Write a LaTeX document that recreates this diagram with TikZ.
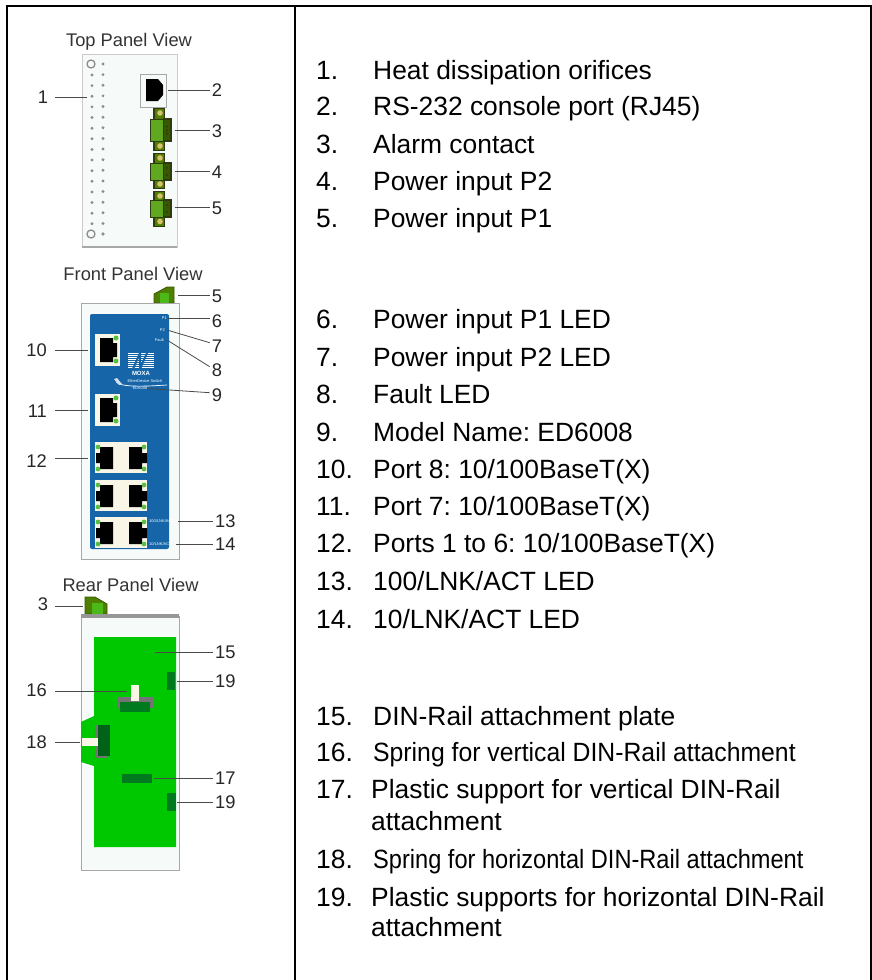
\documentclass[tikz,border=0pt]{standalone}
\usepackage{fontspec}
\setmainfont{Liberation Sans}
\definecolor{panelfill}{HTML}{F6FBFA}
\definecolor{panelgray}{HTML}{A8A8A8}
\definecolor{holegray}{HTML}{8C8C8C}
\definecolor{leadgray}{HTML}{4A4A4A}
\definecolor{moxablue}{HTML}{1565A8}
\definecolor{ledgreen}{HTML}{58C040}
\definecolor{plategreen}{HTML}{00C800}
\definecolor{clipgreen}{HTML}{007A1E}
\definecolor{plugdark}{HTML}{2F3A10}
\definecolor{plugbody}{HTML}{5FA820}
\definecolor{plugtan}{HTML}{D8C070}
\definecolor{plugolive}{HTML}{4F7F00}
\definecolor{portcream}{HTML}{F9F6E8}
\tikzset{
  frameline/.style={line width=2pt, black},
  panelbox/.style={draw=panelgray, line width=1pt, fill=panelfill},
  leadline/.style={line width=0.8pt, leadgray},
  viewtitle/.style={anchor=base, inner sep=0pt, font=\fontsize{18.3}{20}\selectfont, text=black!80},
  callout/.style={anchor=base, inner sep=2pt, font=\fontsize{18.3}{20}\selectfont, text=black!85},
  itemnum/.style={anchor=base west, inner sep=0pt, font=\fontsize{26.4}{28}\selectfont},
  itemtxt/.style={anchor=base west, inner sep=0pt, font=\fontsize{26.4}{28}\selectfont\frenchspacing},
  tinytxt/.style={inner sep=0pt, text=white, font=\fontsize{4}{4}\selectfont}
}
\begin{document}
\begin{tikzpicture}[x=1pt, y=-1pt]
\useasboundingbox (0,0) rectangle (872,980);
% table rules
\draw[frameline] (7,980) -- (7,6) -- (871,6) -- (871,980);
\draw[frameline] (295,6) -- (295,980);
% right column
\foreach \y/\k/\txt in {79/1/{Heat dissipation orifices},115.7/2/{RS-232 console port (RJ45)},153.3/3/{Alarm contact},190.7/4/{Power input P2},227.7/5/{Power input P1},328.3/6/{Power input P1 LED},366/7/{Power input P2 LED},403.3/8/{Fault LED},441/9/{Model Name: ED6008},478.3/10/{Port 8: 10/100BaseT(X)},515.7/11/{Port 7: 10/100BaseT(X)},552.7/12/{Ports 1 to 6: 10/100BaseT(X)},590.7/13/{100/LNK/ACT LED},628.3/14/{10/LNK/ACT LED},725/15/{DIN-Rail attachment plate}} {
  \node[itemnum] (num\k) at (316,\y) {\k.};
  \node[itemtxt] (txt\k) at (373,\y) {\txt};
}
\node[itemnum] (num16) at (316,761.7) {16.};
\node[itemtxt] (txt16) at (373,761.7) {\scalebox{0.938}[1]{Spring for vertical DIN-Rail attachment}};
\node[itemnum] (num17) at (316,798.3) {17.};
\node[itemtxt] (txt17) at (371,798.3) {Plastic support for vertical DIN-Rail};
\node[itemtxt] (txt17b) at (371,830) {attachment};
\node[itemnum] (num18) at (316,868.3) {18.};
\node[itemtxt] (txt18) at (373,868.3) {\scalebox{0.894}[1]{Spring for horizontal DIN-Rail attachment}};
\node[itemnum] (num19) at (316,906) {19.};
\node[itemtxt] (txt19) at (371,906) {Plastic supports for horizontal DIN-Rail};
\node[itemtxt] (txt19b) at (371,936.7) {attachment};
% top panel
\node[viewtitle] (toptitle) at (129,46.7) {Top Panel View};
\draw[panelbox, draw=panelgray!60] (82,54) rectangle (177,247);
\fill[panelgray] (82,245.5) rectangle (177,248);
\draw[holegray, line width=1.3pt] (91,64) circle (4) (91,234) circle (4);
\foreach \i in {0,...,16} {
  \fill[holegray] (103,64+10.63*\i) circle (1.6);
}
\fill[holegray] (103,234) circle (1.6);
\foreach \i in {0,...,14} {
  \fill[holegray] (92,75+10.63*\i) circle (1.6);
}
\draw[panelbox, draw=panelgray] (140,74) rectangle (166,107);
\fill[black] (146,79) -- (158,79) -- (163,85) -- (163,87) -- (163,95) -- (158,101) -- (146,101) -- cycle;
\foreach \ytop/\ybot/\yup/\ydn in {119/141/113/146,163/180/158/184,200/217/196/221.5} {
  \fill[plugdark] (153,\yup-5) rectangle (165,\ydn+5);
  \fill[plugolive] (155,\yup-4) rectangle (164,\ydn+4);
  \fill[plugdark] (163,\ytop-1) rectangle (172,\ybot+1);
  \fill[plugolive!70!black] (164,\ytop+1) rectangle (170,\ybot-1);
  \draw[fill=plugbody, draw=plugdark, line width=1pt] (150,\ytop) rectangle (163,\ybot);
  \fill[plugtan] (160,\yup) circle (2.8) (160,\ydn) circle (2.8);
  \fill[plugdark] (167,{(\ytop+\ybot)/2-3.5}) circle (1.2) (167,{(\ytop+\ybot)/2+3.5}) circle (1.2);
}
\fill[plugdark] (167,130) circle (1.2);
% top panel callouts
\node[callout, anchor=base] (n1) at (43,103) {1};
\node[callout] (n2) at (217,96) {2};
\node[callout] (n3) at (217,137) {3};
\node[callout] (n4) at (217,178) {4};
\node[callout] (n5) at (217,214) {5};
\coordinate (p1) at (87,97);
\coordinate (p2) at (168,90);
\coordinate (p3) at (175,130);
\coordinate (p4) at (175,171);
\coordinate (p5) at (175,207);
\draw[leadline] (n1.east |- p1) ++(5,0) -- (p1);
\foreach \k in {2,3,4,5} {
  \draw[leadline] (p\k) -- (n\k.west |- p\k);
}
% front panel
\node[viewtitle] (fronttitle) at (133,280) {Front Panel View};
\draw[fill=plugolive, draw=plugolive!70!black, line width=0.8pt] (154,303) -- (154,294) -- (167,287) -- (174,287) -- (174,303) -- cycle;
\fill[plugbody!80!green] (160,293) rectangle (169,303);
\draw[panelbox] (81,303) rectangle (179,559);
\fill[moxablue, rounded corners=2pt] (90,314) rectangle (169,549);
% single ports
\foreach \ytop in {334,394} {
  \fill[portcream] (95,\ytop) rectangle (120,\ytop+32);
  \fill[black] (100,\ytop+4) -- (113,\ytop+4) -- (113,\ytop+9) -- (117,\ytop+9) -- (117,\ytop+23) -- (113,\ytop+23) -- (113,\ytop+28) -- (100,\ytop+28) -- cycle;
  \fill[ledgreen] (116,\ytop+4) circle (2.5) (116,\ytop+27) circle (2.5);
}
% double ports
\foreach \ytop in {442,480,517} {
  \fill[portcream] (95,\ytop) rectangle (147,\ytop+31);
  \fill[black] (100,\ytop+5) -- (113,\ytop+5) -- (113,\ytop+27) -- (100,\ytop+27) -- (100,\ytop+21) -- (96,\ytop+21) -- (96,\ytop+11) -- (100,\ytop+11) -- cycle;
  \fill[black] (142,\ytop+5) -- (129,\ytop+5) -- (129,\ytop+27) -- (142,\ytop+27) -- (142,\ytop+21) -- (147,\ytop+21) -- (147,\ytop+11) -- (142,\ytop+11) -- cycle;
  \fill[ledgreen] (98,\ytop+5) circle (2.4) (98,\ytop+27) circle (2.4) (144,\ytop+5) circle (2.4) (144,\ytop+27) circle (2.4);
}
% logo and small print
\fill[white] (128,353) rectangle (154,369);
\foreach \i in {0,...,7} {
  \draw[moxablue, line width=0.5pt] (128,354.5+2*\i) -- (154,354.5+2*\i);
}
\draw[moxablue, line width=2pt] (133,369) -- (140,353) -- (140,369) -- (147,353);
\node[tinytxt, font=\bfseries\fontsize{6}{6}\selectfont] (moxaname) at (141,373) {MOXA};
\draw[white, line width=0.7pt] (116,382) .. controls (122,388) and (150,386) .. (167,385);
\fill[white!80!moxablue] (114,379) -- (117,378) -- (122,384) -- (119,385) -- cycle;
\node[tinytxt] (switchname) at (145,381) {EtherDevice Switch};
\node[tinytxt] (modelname) at (140,388.5) {ED6008};
\node[tinytxt, anchor=east] (ledone) at (167,318) {P1};
\node[tinytxt, anchor=east] (ledtwo) at (165,330) {P2};
\node[tinytxt, anchor=east] (ledfault) at (164,340) {Fault};
\node[tinytxt, anchor=west] (ledhundred) at (149,521) {100/LNK/ACT};
\node[tinytxt, anchor=west] (ledten) at (149,544) {10/LNK/ACT};
% front panel callouts
\node[callout] (m5) at (217,302) {5};
\node[callout] (m6) at (217,327) {6};
\node[callout] (m7) at (217,352) {7};
\node[callout] (m8) at (217,376) {8};
\node[callout] (m9) at (217,401) {9};
\node[callout, anchor=base east] (m10) at (49,356) {10};
\node[callout, anchor=base east] (m11) at (49,417) {11};
\node[callout, anchor=base east] (m12) at (49,467) {12};
\node[callout, anchor=base west] (m13) at (213,527) {13};
\node[callout, anchor=base west] (m14) at (213,550) {14};
\draw[leadline] (178,295) -- (m5.west |- 178,295);
\draw[leadline] (ledone.east) ++(1,0) -- (m6.west |- ledone.east);
\draw[leadline] (ledtwo.east) ++(2,0) -- ([yshift=3pt]m7.west);
\draw[leadline] (ledfault.east) ++(3,0) -- ([yshift=3pt]m8.west);
\draw[leadline] (modelname.east) -- ([yshift=2pt]m9.west);
\draw[leadline] (m10.east |- 0,350) ++(6,0) -- (88,350);
\draw[leadline] (m11.east |- 0,410) ++(6,0) -- (88,410);
\draw[leadline] (m12.east |- 0,458) ++(6,0) -- (88,458);
\draw[leadline] (ledhundred.east) ++(4,0) -- (m13.west |- ledhundred.east);
\draw[leadline] (ledten.east) ++(4,0) -- (m14.west |- ledten.east);
% rear panel
\node[viewtitle] (reartitle) at (130.5,591) {Rear Panel View};
\draw[fill=plugolive, draw=plugolive!70!black, line width=0.8pt] (85,614) -- (85,597) -- (95,597) -- (107,604) -- (107,614) -- cycle;
\fill[plugbody!80!green] (92,603) rectangle (103,614);
\draw[panelbox] (81,616) rectangle (179,870);
\fill[panelgray!90!black] (81,614) rectangle (179,618);
\fill[plategreen] (94,637) -- (176,637) -- (176,847) -- (94,847) -- (94,766) -- (81,762) -- (81,722) -- (94,716) -- cycle;
\fill[clipgreen] (167,672) rectangle (175,690);
\fill[clipgreen] (167,793) rectangle (176,811);
\fill[clipgreen] (122,774) rectangle (152,783);
\fill[black!55] (118,697) rectangle (153,708);
\fill[clipgreen] (120,702) rectangle (150,712);
\fill[portcream] (131,685) rectangle (139,701);
\fill[black!55] (95,725) rectangle (108,758);
\fill[clipgreen!80!black] (98,725) rectangle (110,756);
\fill[portcream] (82,738) rectangle (98,746);
% rear panel callouts
\node[callout] (r3) at (43,610) {3};
\node[callout, anchor=base west] (r15) at (213,658) {15};
\node[callout, anchor=base west] (r19a) at (213,687) {19};
\node[callout, anchor=base east] (r16) at (49,696) {16};
\node[callout, anchor=base east] (r18) at (49,748) {18};
\node[callout, anchor=base west] (r17) at (213,784) {17};
\node[callout, anchor=base west] (r19b) at (213,808) {19};
\draw[leadline] (r3.east |- 0,606) ++(5,0) -- (83,606);
\draw[leadline] (155,652) -- (r15.west |- 155,652);
\draw[leadline] (177,681) -- (r19a.west |- 177,681);
\draw[leadline] (r16.east |- 0,691) ++(6,0) -- (127,691);
\draw[leadline] (r18.east |- 0,742) ++(6,0) -- (80,742);
\draw[leadline] (154,778) -- (r17.west |- 154,778);
\draw[leadline] (177,802) -- (r19b.west |- 177,802);
\end{tikzpicture}
\end{document}
